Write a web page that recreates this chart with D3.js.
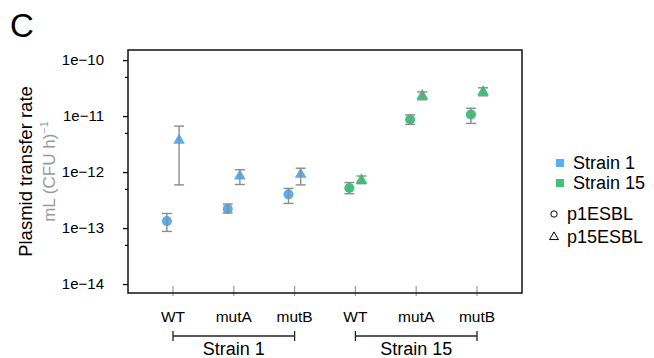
<!DOCTYPE html>
<html>
<head>
<meta charset="utf-8">
<script src="https://cdn.jsdelivr.net/npm/d3@7"></script>
<style>
  body { margin: 0; background: #fff; }
  svg { font-family: "Liberation Sans", Arial, Helvetica, sans-serif; }
</style>
</head>
<body>
<svg id="chart" width="654" height="358"></svg>
<script>
// data
var groups = ["WT", "mutA", "mutB", "WT", "mutA", "mutB"];
var strain_of = ["Strain 1", "Strain 1", "Strain 1", "Strain 15", "Strain 15", "Strain 15"];
var strains = ["Strain 1", "Strain 15"];
var plasmids = ["p1ESBL", "p15ESBL"];

var p1_mean = [1.33e-13, 2.2e-13, 4.0e-13, 5.2e-13, 8.7e-12, 1.07e-11];
var p1_low  = [8.7e-14, 1.86e-13, 2.75e-13, 4.1e-13, 7.1e-12, 7.4e-12];
var p1_high = [1.82e-13, 2.69e-13, 5.1e-13, 6.5e-13, 1.05e-11, 1.38e-11];

var p15_mean = [3.7e-12, 8.5e-13, 9.1e-13, 7.2e-13, 2.3e-11, 2.7e-11];
var p15_low  = [5.9e-13, 6.0e-13, 5.9e-13, 6.2e-13, 1.95e-11, 2.3e-11];
var p15_high = [6.6e-12, 1.1e-12, 1.17e-12, 8.5e-13, 2.7e-11, 3.2e-11];

var y_ticks = [1e-14, 1e-13, 1e-12, 1e-11, 1e-10];
var y_minor = [5e-14, 5e-13, 5e-12, 5e-11];

var margin = { top: 50, right: 132, bottom: 65, left: 128 };
var width = 654 - margin.left - margin.right;
var height = 358 - margin.top - margin.bottom;

var colors = d3.scaleOrdinal().domain(strains).range(["#55aff2", "#3cc47a"]);
var shapes = d3.scaleOrdinal().domain(plasmids).range([d3.symbolCircle, d3.symbolTriangle]);
var offset = { "p1ESBL": -0.1, "p15ESBL": 0.1 };

var x = d3.scaleLinear().domain([0.26, 6.74]).range([0, width]);
var y = d3.scaleLog().domain([Math.pow(10, -14.16), Math.pow(10, -9.82)]).range([height, 0]);

var svg = d3.select("#chart");
var g = svg.append("g")
    .attr("transform", "translate(" + margin.left + "," + margin.top + ")");

// build one row per point
var points = [];
groups.forEach(function (grp, i) {
    points.push({ i: i + 1, strain: strain_of[i], plasmid: "p1ESBL", mean: p1_mean[i], low: p1_low[i], high: p1_high[i] });
    points.push({ i: i + 1, strain: strain_of[i], plasmid: "p15ESBL", mean: p15_mean[i], low: p15_low[i], high: p15_high[i] });
});

// y axis
var y_axis = d3.axisLeft(y).tickValues(y_ticks).tickSize(5).tickPadding(19)
    .tickFormat(function (d) { return "1e\u2212" + Math.round(-Math.log10(d)); });
var ya = g.append("g").call(y_axis);
ya.select(".domain").remove();
ya.selectAll("text").attr("font-size", 15).attr("fill", "#000");
ya.selectAll("line").attr("stroke", "#000").attr("stroke-width", 1.3);

var ym = g.append("g").call(d3.axisLeft(y).tickValues(y_minor).tickSize(3).tickFormat(""));
ym.select(".domain").remove();
ym.selectAll("line").attr("stroke", "#000").attr("stroke-width", 1.3);

// x ticks (crossing the bottom border)
g.append("g").selectAll("line")
    .data(groups)
    .enter().append("line")
    .attr("x1", function (d, i) { return x(i + 1); })
    .attr("x2", function (d, i) { return x(i + 1); })
    .attr("y1", height - 7)
    .attr("y2", height + 3)
    .attr("stroke", "#999")
    .attr("stroke-width", 1.2);

// frame
g.append("rect")
    .attr("width", width)
    .attr("height", height)
    .attr("fill", "none")
    .attr("stroke", "#111")
    .attr("stroke-width", 1.5);

// x labels
g.append("g").selectAll("text")
    .data(groups)
    .enter().append("text")
    .attr("x", function (d, i) { return x(i + 1); })
    .attr("y", height + 29)
    .attr("text-anchor", "middle")
    .attr("font-size", 15.5)
    .text(function (d) { return d; });

// strain brackets
var bracket = g.append("g");
strains.forEach(function (s, k) {
    var x0 = x(k * 3 + 1), x1 = x(k * 3 + 3);
    var by = height + 43;
    bracket.append("line").attr("x1", x0).attr("x2", x1).attr("y1", by).attr("y2", by)
        .attr("stroke", "#222").attr("stroke-width", 1.3);
    [x0, x1].forEach(function (xx) {
        bracket.append("line").attr("x1", xx).attr("x2", xx).attr("y1", by - 5).attr("y2", by + 5)
            .attr("stroke", "#222").attr("stroke-width", 1.3);
    });
    bracket.append("text")
        .attr("x", (x0 + x1) / 2)
        .attr("y", height + 62)
        .attr("text-anchor", "middle")
        .attr("font-size", 18)
        .text(s);
});

// points
g.append("g").selectAll("path")
    .data(points)
    .enter().append("path")
    .attr("d", function (d) {
        return d3.symbol().type(shapes(d.plasmid)).size(d.plasmid === "p1ESBL" ? 80 : 60)();
    })
    .attr("transform", function (d) {
        return "translate(" + x(d.i + offset[d.plasmid]) + "," + y(d.mean) + ")";
    })
    .attr("fill", function (d) { return colors(d.strain); });

// error bars drawn on top
var err = g.append("g").attr("stroke", "#8c8c8c").attr("stroke-width", 1.4);
points.forEach(function (d) {
    var cx = x(d.i + offset[d.plasmid]);
    err.append("line").attr("x1", cx).attr("x2", cx).attr("y1", y(d.low)).attr("y2", y(d.high));
    err.append("line").attr("x1", cx - 5).attr("x2", cx + 5).attr("y1", y(d.low)).attr("y2", y(d.low));
    err.append("line").attr("x1", cx - 5).attr("x2", cx + 5).attr("y1", y(d.high)).attr("y2", y(d.high));
});

// y title
var yt = svg.append("g").attr("transform", "translate(0,171.5)");
yt.append("text")
    .attr("transform", "translate(32,0) rotate(-90)")
    .attr("text-anchor", "middle")
    .attr("font-size", 18.5)
    .text("Plasmid transfer rate");
var t2 = yt.append("text")
    .attr("transform", "translate(55,0) rotate(-90)")
    .attr("text-anchor", "middle")
    .attr("font-size", 17)
    .attr("fill", "#999");
t2.append("tspan").text("mL (CFU h)");
t2.append("tspan").attr("dy", -7).attr("font-size", 11).text("\u22121");

// panel letter
svg.append("text").attr("x", 10).attr("y", 37).attr("font-size", 33).text("C");

// legend
var leg = svg.append("g");
var lx = 560;
strains.forEach(function (s, k) {
    var ly = 163 + k * 20;
    leg.append("rect").attr("x", lx - 4).attr("y", ly - 4).attr("width", 8).attr("height", 8)
        .attr("fill", colors(s));
    leg.append("text").attr("x", 573).attr("y", ly + 6).attr("font-size", 18).text(s);
});
plasmids.forEach(function (p, k) {
    var ly = 214 + k * 23;
    leg.append("path")
        .attr("d", d3.symbol().type(shapes(p)).size(p === "p1ESBL" ? 32 : 34)())
        .attr("transform", "translate(554," + ly + ")")
        .attr("fill", "none")
        .attr("stroke", "#000")
        .attr("stroke-width", 1);
    leg.append("text").attr("x", 567).attr("y", ly + 6).attr("font-size", 18).text(p);
});
</script>
</body>
</html>
